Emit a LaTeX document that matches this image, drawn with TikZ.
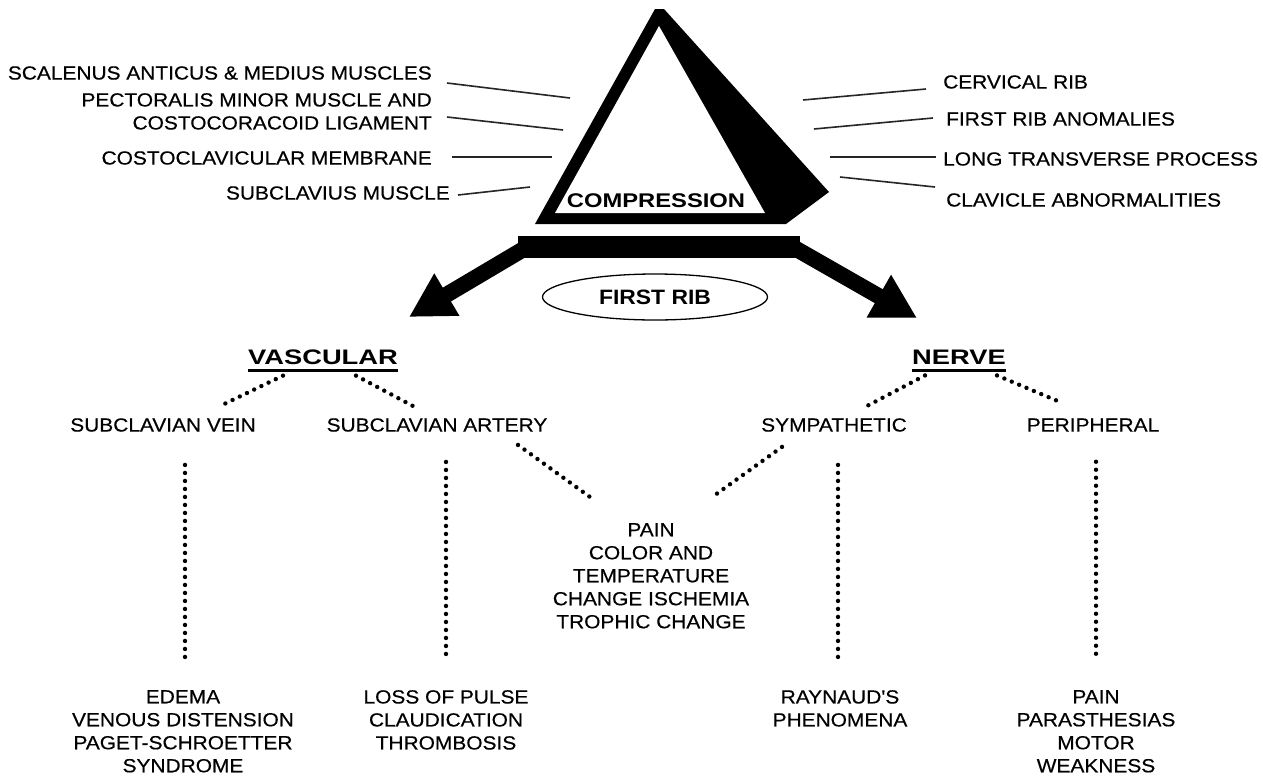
\documentclass[tikz,border=0pt]{standalone}
\usepackage{fontspec}
\setmainfont{Liberation Sans}
\newfontfamily\bodyf[FakeStretch=1.1,FakeBold=0.4]{Liberation Sans}
\newfontfamily\headf[FakeStretch=1.3]{Liberation Sans}
\newfontfamily\compf[FakeStretch=1.2]{Liberation Sans}
\newfontfamily\ribf[FakeStretch=1.1]{Liberation Sans}
\usetikzlibrary{shapes.geometric,arrows.meta,calc}
\tikzset{
  lbl/.style={inner sep=0pt, font=\bodyf\fontsize{19}{23}\selectfont},
  blk/.style={lbl, align=center, anchor=north},
  head/.style={inner sep=0pt, font=\headf\bfseries\fontsize{21}{25}\selectfont},
  leader/.style={line width=1.6pt, black!85},
  dotline/.style={line width=4.4pt, line cap=round, dash pattern=on 0pt off 8pt},
  bigarrow/.style={line width=16pt, -{Triangle[length=44pt,width=46pt]}},
  uline/.style={line width=2.6pt}
}
\begin{document}
\begin{tikzpicture}[x=1pt,y=-1pt]
\fill[white] (0,0) rectangle (1263,782);
\useasboundingbox (0,0) rectangle (1263,782);

% triangle
\fill[black] (655,9) -- (664,9) -- (829,192) -- (786,224) -- (535,224) -- cycle;
\fill[white] (659,26) -- (765,213) -- (555,213) -- cycle;
\node[inner sep=0pt, font=\compf\bfseries\fontsize{19.8}{24}\selectfont] (comp) at (656,201) {COMPRESSION};

% first rib bar and arrows
\node[fill=black, minimum width=282pt, minimum height=22pt, inner sep=0pt] (bar) at (659,247) {};
\coordinate (vtip) at (409,317);
\coordinate (ntip) at (917,318);
\draw[bigarrow] ($(bar.west)+(6,2)$) -- (vtip);
\draw[bigarrow] ($(bar.east)+(-4,2)$) -- (ntip);
\node[draw, line width=1.3pt, ellipse, minimum width=225pt, minimum height=46pt, inner sep=0pt,
      font=\ribf\bfseries\fontsize{20.8}{25}\selectfont] (rib) at (655,297) {FIRST RIB};

% left labels
\node[lbl, anchor=east] (scal) at (432,73) {SCALENUS ANTICUS \& MEDIUS MUSCLES};
\node[lbl, anchor=north east, align=right] (pect) at (432,93) {PECTORALIS MINOR MUSCLE AND\\COSTOCORACOID LIGAMENT};
\node[lbl, anchor=east] (cost) at (432,158) {COSTOCLAVICULAR MEMBRANE};
\node[lbl, anchor=east] (subm) at (450,193) {SUBCLAVIUS MUSCLE};
\draw[leader] ($(scal.east)+(15,10)$) -- ++(123,15);
\draw[leader] ($(pect.north east)+(15,24)$) -- ++(116,13);
\draw[leader] ($(cost.east)+(20,-1)$) -- ++(100,0);
\draw[leader] ($(subm.east)+(8,2)$) -- ++(72,-8);

% right labels
\node[lbl, anchor=west] (cerv) at (943,82) {CERVICAL RIB};
\node[lbl, anchor=west] (frib) at (946,119) {FIRST RIB ANOMALIES};
\node[lbl, anchor=west] (ltp) at (943,159) {LONG TRANSVERSE PROCESS};
\node[lbl, anchor=west] (clav) at (946,200) {CLAVICLE ABNORMALITIES};
\draw[leader] ($(cerv.west)+(-17,7)$) -- ++(-123,11);
\draw[leader] ($(frib.west)+(-13,-1)$) -- ++(-119,11);
\draw[leader] ($(ltp.west)+(-7,-2)$) -- ++(-106,0);
\draw[leader] ($(clav.west)+(-11,-13)$) -- ++(-95,-10);

% headings
\node[head] (vasc) at (323,357) {VASCULAR};
\node[head] (nerve) at (959,357) {NERVE};
\draw[uline] ($(vasc.south west)+(0,6)$) -- ($(vasc.south east)+(0,6)$);
\draw[uline] ($(nerve.south west)+(0,6)$) -- ($(nerve.south east)+(0,6)$);

% second level
\node[lbl] (vein) at (163,425) {SUBCLAVIAN VEIN};
\node[lbl] (art) at (437,425) {SUBCLAVIAN ARTERY};
\node[lbl] (symp) at (834,425) {SYMPATHETIC};
\node[lbl] (peri) at (1093,425) {PERIPHERAL};

% centre block
\node[blk] (ctext) at (651,523) {PAIN\\COLOR AND\\TEMPERATURE\\CHANGE ISCHEMIA\\TROPHIC CHANGE};

% bottom blocks
\node[blk] (edema) at (183,690) {EDEMA\\VENOUS DISTENSION\\PAGET-SCHROETTER\\SYNDROME};
\node[blk] (loss) at (446,690) {LOSS OF PULSE\\CLAUDICATION\\THROMBOSIS};
\node[blk] (rayn) at (840,690) {RAYNAUD'S\\PHENOMENA};
\node[blk] (npain) at (1096,690) {PAIN\\PARASTHESIAS\\MOTOR\\WEAKNESS};

% dotted connectors
\draw[dotline] ($(vasc.south)+(-40,11)$) -- ($(vein.north)+(59,-13)$);
\draw[dotline] ($(vasc.south)+(33,11)$) -- ($(art.north)+(-22,-11)$);
\draw[dotline] ($(nerve.south)+(-34,11)$) -- ($(symp.north)+(29,-10)$);
\draw[dotline] ($(nerve.south)+(38,11)$) -- ($(peri.north)+(-30,-15)$);
\draw[dotline] ($(art.south)+(81,13)$) -- ($(ctext.north)+(-61,-26)$);
\draw[dotline] ($(symp.south)+(-52,15)$) -- ($(ctext.north)+(64,-28)$);
\draw[dotline] ($(vein.south)+(22,33)$) -- ($(edema.north)+(2,-30)$);
\draw[dotline] ($(art.south)+(9,30)$) -- ($(loss.north)+(0,-35)$);
\draw[dotline] ($(symp.south)+(4,33)$) -- ($(rayn.north)+(-2,-32)$);
\draw[dotline] ($(peri.south)+(3,30)$) -- ($(npain.north)+(0,-35)$);
\end{tikzpicture}
\end{document}
